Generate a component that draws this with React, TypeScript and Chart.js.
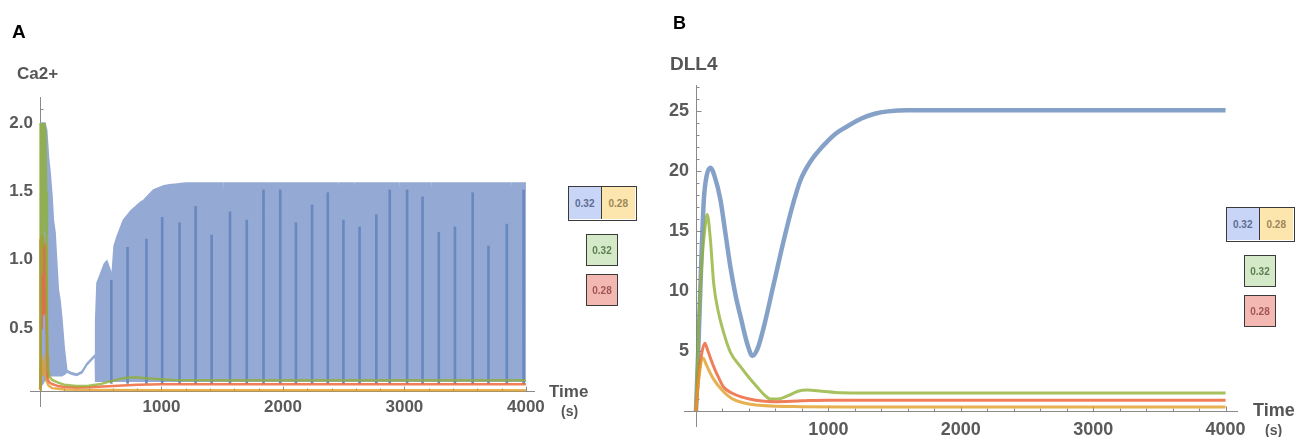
import React, { useEffect, useRef } from 'react';
import { Chart, registerables } from 'chart.js';

Chart.register(...registerables);

const FONT = '"Liberation Sans", Arial, Helvetica, sans-serif';

// ---------------- Panel A : Ca2+ ----------------
const caXTicks = [1000, 2000, 3000, 4000];
const caYTicks = [0.5, 1.0, 1.5, 2.0];

// blue (0.32/0.28) oscillation envelope
const caBlueT = [0, 40, 55, 70, 83, 100, 110, 124, 140, 151, 165, 179, 200, 221, 262, 303, 345, 386, 430, 455, 458, 469, 500, 530, 551, 575, 592, 610, 634, 686, 750, 826, 845, 851, 858, 934, 1020, 1085, 1091, 1097, 1200, 1505, 1512, 1519, 1877, 1884, 1891, 2448, 2455, 2462, 2580, 2587, 2594, 2952, 2959, 2966, 3216, 3223, 3230, 3877, 3884, 3891, 4000];
const caBlueUpper = [2.0, 2.0, 1.95, 1.75, 1.64, 1.45, 1.29, 1.2, 0.95, 0.78, 0.7, 0.58, 0.35, 0.19, 0.172, 0.163, 0.182, 0.24, 0.282, 0.305, 0.55, 0.83, 0.9, 0.97, 0.99, 0.93, 0.88, 1.1, 1.17, 1.29, 1.36, 1.42, 1.43, 1.2, 1.44, 1.51, 1.54, 1.55, 1.3, 1.55, 1.56, 1.56, 1.17, 1.56, 1.56, 1.24, 1.56, 1.56, 1.35, 1.56, 1.56, 1.35, 1.56, 1.56, 1.29, 1.56, 1.56, 1.29, 1.56, 1.56, 1.31, 1.56, 1.56];
const caBlueLower = [0.06, 0.12, 0.14, 0.15, 0.15, 0.15, 0.15, 0.15, 0.15, 0.15, 0.15, 0.15, 0.16, 0.178, 0.162, 0.153, 0.172, 0.23, 0.272, 0.295, 0.11, 0.11, 0.11, 0.11, 0.11, 0.11, 0.11, 0.11, 0.11, 0.11, 0.11, 0.11, 0.11, 0.11, 0.11, 0.11, 0.11, 0.11, 0.11, 0.11, 0.11, 0.11, 0.11, 0.11, 0.11, 0.11, 0.11, 0.11, 0.11, 0.11, 0.11, 0.11, 0.11, 0.11, 0.11, 0.11, 0.11, 0.11, 0.11, 0.11, 0.11, 0.11, 0.11];

// darker vertical stripes inside the oscillation band
const caStripeT = [587, 721, 876, 1006, 1149, 1281, 1413, 1564, 1702, 1840, 1978, 2107, 2240, 2369, 2498, 2631, 2769, 2879, 3022, 3149, 3283, 3416, 3562, 3692, 3843, 3981];
const caStripeTop = [0.85, 1.09, 1.15, 1.31, 1.27, 1.39, 1.18, 1.35, 1.29, 1.51, 1.51, 1.27, 1.4, 1.49, 1.29, 1.24, 1.33, 1.51, 1.51, 1.46, 1.2, 1.24, 1.49, 1.1, 1.26, 1.51];
const caStripeBase = 0.095;

const caGreenT = [0, 4, 9, 14, 19, 24, 29, 34, 39, 44, 50, 57, 65, 80, 100, 150, 200, 300, 400, 500, 600, 700, 780, 900, 1100, 1500, 4000];
const caGreenV = [0.05, 2.0, 0.9, 2.0, 1.1, 2.0, 1.2, 2.0, 1.3, 1.95, 1.5, 0.6, 0.2, 0.14, 0.12, 0.1, 0.085, 0.075, 0.078, 0.09, 0.115, 0.135, 0.14, 0.13, 0.12, 0.118, 0.118];

const caRedT = [0, 4, 9, 14, 19, 24, 29, 34, 40, 46, 52, 58, 65, 80, 100, 150, 200, 300, 400, 600, 800, 1000, 4000];
const caRedV = [0.05, 1.15, 0.5, 1.18, 0.6, 1.17, 0.7, 1.12, 0.6, 1.1, 0.8, 0.3, 0.12, 0.1, 0.09, 0.075, 0.068, 0.065, 0.066, 0.075, 0.085, 0.088, 0.088];

const caYellowT = [0, 10, 20, 35, 50, 70, 100, 150, 200, 300, 500, 1000, 4000];
const caYellowV = [0.05, 0.3, 0.15, 0.25, 0.12, 0.08, 0.06, 0.055, 0.05, 0.048, 0.046, 0.045, 0.045];

// ---------------- Panel B : DLL4 ----------------
const dllXTicks = [1000, 2000, 3000, 4000];
const dllYTicks = [5, 10, 15, 20, 25];

const dllBlueT = [0, 20, 40, 59, 80, 109, 140, 185, 220, 260, 300, 336, 386, 427, 465, 512, 587, 663, 726, 789, 870, 950, 1050, 1150, 1250, 1350, 1450, 1600, 2000, 2500, 3000, 3500, 4000];
const dllBlueV = [0, 6, 12.5, 17.6, 19.6, 20.3, 19.6, 17.6, 15, 12, 9.6, 7.9, 5.65, 4.6, 5.2, 7.0, 10.6, 14.25, 17.0, 19.25, 20.9, 22.0, 23.1, 23.8, 24.4, 24.8, 25.0, 25.1, 25.1, 25.1, 25.1, 25.1, 25.1];

const dllGreenT = [0, 20, 45, 70, 85, 109, 134, 170, 210, 260, 336, 400, 462, 520, 562, 620, 700, 770, 840, 950, 1090, 1300, 1600, 4000];
const dllGreenV = [0, 7, 12.5, 15.5, 16.4, 14.25, 10.6, 8.2, 6.5, 4.9, 3.7, 2.8, 2.0, 1.3, 1.0, 1.0, 1.3, 1.65, 1.75, 1.65, 1.52, 1.5, 1.5, 1.5];

const dllRedT = [0, 20, 45, 67, 90, 130, 170, 208, 270, 336, 450, 585, 800, 1000, 1500, 4000];
const dllRedV = [0, 2.8, 4.9, 5.65, 5.0, 3.8, 2.8, 2.0, 1.5, 1.2, 0.9, 0.78, 0.85, 0.9, 0.9, 0.9];

const dllOrangeT = [0, 20, 54, 80, 130, 208, 270, 336, 500, 800, 1200, 4000];
const dllOrangeV = [0, 2.6, 4.4, 3.8, 2.7, 1.6, 1.05, 0.75, 0.45, 0.36, 0.34, 0.34];

// ---------------- helpers ----------------
const zip = (t: number[], v: number[]) => t.map((x, i) => ({ x, y: v[i] }));

const C_BLUE_FILL = 'rgb(148,170,212)';
const C_STRIPE = 'rgb(106,136,192)';
const C_GREEN = 'rgba(143,176,50,0.78)';
const C_RED = 'rgba(235,98,53,0.82)';
const C_YELLOW = 'rgba(225,156,36,0.8)';
const C_BLUE_LINE = 'rgba(94,129,181,0.75)';

type AxesCfg = { xMinor: number; xMajor: number; yMinor: number; yMajor: number; xExt: number; yExt: number };

function makeAxesPlugin(cfg: AxesCfg) {
  return {
    id: 'mmaAxes',
    beforeDatasetsDraw(chart: any) {
      const { ctx, chartArea: ca, scales } = chart;
      const xs = scales.x;
      const ys = scales.y;
      const yb = Math.round(ca.bottom) + 0.5;
      const xl = Math.round(ca.left) + 0.5;
      ctx.save();
      ctx.strokeStyle = '#8a8a8a';
      ctx.lineWidth = 1;
      ctx.beginPath();
      ctx.moveTo(ca.left - cfg.xExt, yb);
      ctx.lineTo(ca.right, yb);
      ctx.moveTo(xl, ca.top);
      ctx.lineTo(xl, ca.bottom + cfg.yExt);
      ctx.stroke();
      ctx.beginPath();
      for (let i = 1; i * cfg.xMinor <= xs.max; i++) {
        const v = i * cfg.xMinor;
        const major = Math.abs(v / cfg.xMajor - Math.round(v / cfg.xMajor)) < 1e-6;
        const px = Math.round(xs.getPixelForValue(v)) + 0.5;
        ctx.moveTo(px, yb);
        ctx.lineTo(px, yb - (major ? 5 : 3));
      }
      for (let i = 1; i * cfg.yMinor <= ys.max; i++) {
        const v = i * cfg.yMinor;
        if (v < ys.min) continue;
        const major = Math.abs(v / cfg.yMajor - Math.round(v / cfg.yMajor)) < 1e-6;
        const py = Math.round(ys.getPixelForValue(v)) + 0.5;
        ctx.moveTo(xl, py);
        ctx.lineTo(xl + (major ? 5 : 3), py);
      }
      ctx.stroke();
      ctx.restore();
    },
  };
}

function axisOpts(min: number, max: number, ticksList: number[], size: number, pad: number, fmt: (v: number) => string, fit: (s: any) => void) {
  return {
    type: 'linear',
    min,
    max,
    offset: false,
    grid: { display: false, offset: false, drawTicks: false },
    border: { display: false },
    afterBuildTicks: (s: any) => { s.ticks = ticksList.map((value) => ({ value })); },
    afterFit: fit,
    ticks: {
      autoSkip: false,
      maxRotation: 0,
      padding: pad,
      color: '#5a5a5a',
      font: { family: FONT, size, weight: 'bold' as const },
      callback: (v: any) => fmt(Number(v)),
    },
  };
}

function buildA(canvas: HTMLCanvasElement) {
  return new Chart(canvas, {
    type: 'line',
    data: {
      datasets: [
        { data: zip(caGreenT, caGreenV), borderColor: C_GREEN, borderWidth: 2.5, pointRadius: 0, tension: 0, order: 0, clip: false } as any,
        { data: zip(caRedT, caRedV), borderColor: C_RED, borderWidth: 2.5, pointRadius: 0, tension: 0, order: 0, clip: false } as any,
        { data: zip(caYellowT, caYellowV), borderColor: C_YELLOW, borderWidth: 2.5, pointRadius: 0, tension: 0, order: 0, clip: false } as any,
        {
          type: 'bar',
          data: caStripeT.map((t, i) => ({ x: t, y: [caStripeBase, caStripeTop[i]] })),
          backgroundColor: C_STRIPE,
          borderWidth: 0,
          barThickness: 2,
          order: 1,
        } as any,
        { data: zip(caBlueT, caBlueLower), borderColor: C_BLUE_FILL, borderWidth: 1.5, pointRadius: 0, tension: 0, fill: false, order: 2 } as any,
        { data: zip(caBlueT, caBlueUpper), borderColor: C_BLUE_FILL, backgroundColor: C_BLUE_FILL, borderWidth: 1.5, pointRadius: 0, tension: 0, fill: 4, order: 2 } as any,
      ],
    },
    options: {
      responsive: false,
      animation: false,
      events: [],
      layout: { padding: { left: 0, top: 97, right: 105, bottom: 0 } },
      plugins: { legend: { display: false }, tooltip: { enabled: false } },
      scales: {
        x: axisOpts(0, 4075, caXTicks, 17, 6, (v) => String(v), (s: any) => { s.height = 46; }),
        y: axisOpts(0.039, 2.19, caYTicks, 17, 7, (v) => v.toFixed(1), (s: any) => { s.width = 40; }),
      },
    } as any,
    plugins: [makeAxesPlugin({ xMinor: 200, xMajor: 1000, yMinor: 0.1, yMajor: 0.5, xExt: 10, yExt: 16 })],
  });
}

function buildB(canvas: HTMLCanvasElement) {
  const line = (t: number[], v: number[], color: string, w: number) => ({
    data: zip(t, v), borderColor: color, borderWidth: w, pointRadius: 0, cubicInterpolationMode: 'monotone', clip: false,
  } as any);
  return new Chart(canvas, {
    type: 'line',
    data: {
      datasets: [
        line(dllOrangeT, dllOrangeV, C_YELLOW, 3),
        line(dllRedT, dllRedV, C_RED, 3),
        line(dllGreenT, dllGreenV, C_GREEN, 3),
        line(dllBlueT, dllBlueV, C_BLUE_LINE, 4.5),
      ],
    },
    options: {
      responsive: false,
      animation: false,
      events: [],
      layout: { padding: { left: 0, top: 85, right: 58, bottom: 0 } },
      plugins: { legend: { display: false }, tooltip: { enabled: false } },
      scales: {
        x: axisOpts(0, 4094, dllXTicks, 18, 8, (v) => String(v), (s: any) => { s.height = 26; }),
        y: axisOpts(0, 27.2, dllYTicks, 18, 7, (v) => String(v), (s: any) => { s.width = 56; }),
      },
    } as any,
    plugins: [makeAxesPlugin({ xMinor: 200, xMajor: 1000, yMinor: 1, yMajor: 5, xExt: 12, yExt: 16 })],
  });
}

function ChartCanvas({ left, width, build }: { left: number; width: number; build: (c: HTMLCanvasElement) => Chart }) {
  const ref = useRef<HTMLCanvasElement | null>(null);
  useEffect(() => {
    if (!ref.current) return;
    const ch = build(ref.current);
    return () => ch.destroy();
  }, [build]);
  return <canvas ref={ref} width={width} height={437} style={{ position: 'absolute', left, top: 0, width, height: 437 }} />;
}

const txt = (left: number, top: number, size: number, text: string, color = '#555', weight = 'bold') => (
  <div style={{ position: 'absolute', left, top, fontFamily: FONT, fontSize: size, fontWeight: weight as any, color, lineHeight: 1, whiteSpace: 'nowrap' }}>{text}</div>
);

const BORDER = '1.5px solid #3a3a3a';

function Cell({ w, h, bg, color, text, extra }: { w: number; h: number; bg: string; color: string; text: string; extra?: React.CSSProperties }) {
  return (
    <div style={{ width: w, height: h, background: bg, color, display: 'flex', alignItems: 'center', justifyContent: 'center', fontFamily: FONT, fontSize: 10, fontWeight: 'bold', boxSizing: 'border-box', ...extra }}>{text}</div>
  );
}

function Legend({ pairLeft, pairTop, divX, singleLeft, greenTop, redTop }: { pairLeft: number; pairTop: number; divX: number; singleLeft: number; greenTop: number; redTop: number }) {
  return (
    <>
      <div style={{ position: 'absolute', left: pairLeft, top: pairTop, width: 69, height: 35, border: BORDER, boxSizing: 'border-box', display: 'flex' }}>
        <Cell w={divX - pairLeft - 1.5} h={32} bg="#c9d5f7" color="#5d6d93" text="0.32" extra={{ borderRight: BORDER }} />
        <Cell w={69 - (divX - pairLeft) - 1.5} h={32} bg="#fde6ad" color="#9c875a" text="0.28" />
      </div>
      <div style={{ position: 'absolute', left: singleLeft, top: greenTop, border: BORDER }}>
        <Cell w={30} h={30} bg="#d3e9c7" color="#5e7e52" text="0.32" />
      </div>
      <div style={{ position: 'absolute', left: singleLeft, top: redTop, border: BORDER }}>
        <Cell w={30} h={30} bg="#f4b8b3" color="#a05656" text="0.28" />
      </div>
    </>
  );
}

export default function App() {
  return (
    <div style={{ position: 'fixed', left: 0, top: 0, width: 1296, height: 437, background: '#fff', overflow: 'hidden' }}>
      <ChartCanvas left={0} width={640} build={buildA} />
      <ChartCanvas left={640} width={656} build={buildB} />
      {txt(12, 22, 19, 'A', '#000')}
      {txt(17, 65, 17, 'Ca2+')}
      {txt(549, 383, 17, 'Time')}
      {txt(561, 404, 14, '(s)')}
      {txt(673, 14, 18, 'B', '#000')}
      {txt(670, 54, 19, 'DLL4')}
      {txt(1253, 401, 18, 'Time')}
      {txt(1265, 423, 14, '(s)')}
      <Legend pairLeft={568} pairTop={186} divX={602} singleLeft={586} greenTop={234} redTop={274} />
      <Legend pairLeft={1226} pairTop={207} divX={1260} singleLeft={1244} greenTop={255} redTop={295} />
    </div>
  );
}
